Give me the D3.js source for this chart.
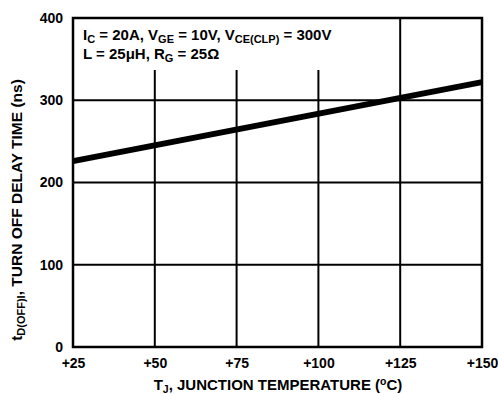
<!DOCTYPE html>
<html>
<head>
<meta charset="utf-8">
<script src="https://cdn.jsdelivr.net/npm/d3@7"></script>
<style>
  body { margin: 0; background: #fff; }
  text { font-family: "Liberation Sans", Arial, sans-serif; font-weight: bold; fill: #000; }
</style>
</head>
<body>
<svg width="498" height="394"></svg>
<script>
// data
var temps = [25, 150];
var delays = [226, 322];
var xTicks = [25, 50, 75, 100, 125, 150];
var yTicks = [0, 100, 200, 300, 400];

var svg = d3.select("svg"),
  margin = { top: 18, right: 16, bottom: 47, left: 73 },
  width = +svg.attr("width") - margin.left - margin.right,
  height = +svg.attr("height") - margin.top - margin.bottom,
  g = svg.append("g").attr("transform", "translate(" + margin.left + "," + margin.top + ")");

var x = d3.scaleLinear().domain([25, 150]).range([0, width]);
var y = d3.scaleLinear().domain([0, 400]).range([height, 0]);

// horizontal grid
g.append("g").selectAll("line")
  .data(yTicks.slice(1, -1))
  .enter().append("line")
  .attr("x1", 0).attr("x2", width)
  .attr("y1", function(d) { return y(d); })
  .attr("y2", function(d) { return y(d); })
  .attr("stroke", "#000").attr("stroke-width", 2);

// vertical grid (first three are cut by the note box)
g.append("g").selectAll("line")
  .data(xTicks.slice(1, -1))
  .enter().append("line")
  .attr("x1", function(d) { return x(d); })
  .attr("x2", function(d) { return x(d); })
  .attr("y1", function(d) { return d < 125 ? 52 : 0; })
  .attr("y2", height)
  .attr("stroke", "#000").attr("stroke-width", 2);

// frame
g.append("rect")
  .attr("width", width).attr("height", height)
  .attr("fill", "none").attr("stroke", "#000").attr("stroke-width", 2.5);

// the curve
g.append("path")
  .datum(d3.zip(temps, delays))
  .attr("fill", "none")
  .attr("stroke", "#000")
  .attr("stroke-width", 6)
  .attr("d", d3.line()
    .x(function(d) { return x(d[0]); })
    .y(function(d) { return y(d[1]); }));

// x axis labels
var xAxis = g.append("g")
  .attr("transform", "translate(0," + height + ")")
  .call(d3.axisBottom(x).tickValues(xTicks).tickSize(0).tickPadding(11)
    .tickFormat(function(d) { return "+" + d; }));
xAxis.select(".domain").remove();
xAxis.selectAll("text").attr("font-size", 14).style("font-family", "Liberation Sans, Arial, sans-serif");

// y axis labels
var yAxis = g.append("g")
  .call(d3.axisLeft(y).tickValues(yTicks).tickSize(0).tickPadding(10));
yAxis.select(".domain").remove();
yAxis.selectAll("text").attr("font-size", 14).style("font-family", "Liberation Sans, Arial, sans-serif");

// note text
var note = g.append("g").attr("font-size", 15);
var l1 = note.append("text").attr("x", 10).attr("y", 22);
l1.append("tspan").text("I");
l1.append("tspan").attr("font-size", 11).attr("dy", 3).text("C");
l1.append("tspan").attr("dy", -3).text(" = 20A, V");
l1.append("tspan").attr("font-size", 11).attr("dy", 3).text("GE");
l1.append("tspan").attr("dy", -3).text(" = 10V, V");
l1.append("tspan").attr("font-size", 11).attr("dy", 3).text("CE(CLP)");
l1.append("tspan").attr("dy", -3).text(" = 300V");

var l2 = note.append("text").attr("x", 10).attr("y", 41);
l2.append("tspan").text("L = 25\u03bcH, R");
l2.append("tspan").attr("font-size", 11).attr("dy", 3).text("G");
l2.append("tspan").attr("dy", -3).text(" = 25\u03a9");

// axis titles
var xt = svg.append("text")
  .attr("x", 278)
  .attr("y", 390)
  .attr("text-anchor", "middle")
  .attr("font-size", 15);
xt.append("tspan").text("T");
xt.append("tspan").attr("font-size", 10.5).attr("dy", 3).text("J");
xt.append("tspan").attr("dy", -3).text(", JUNCTION TEMPERATURE (");
xt.append("tspan").attr("font-size", 10.5).attr("dy", -5).text("o");
xt.append("tspan").attr("dy", 5).text("C)");

var yt = svg.append("text")
  .attr("transform", "translate(22,210) rotate(-90)")
  .attr("text-anchor", "middle")
  .attr("font-size", 15.5);
yt.append("tspan").text("t");
yt.append("tspan").attr("font-size", 11).attr("dy", 3).text("D(OFF)I");
yt.append("tspan").attr("dy", -3).text(", TURN OFF DELAY TIME (ns)");
</script>
</body>
</html>
